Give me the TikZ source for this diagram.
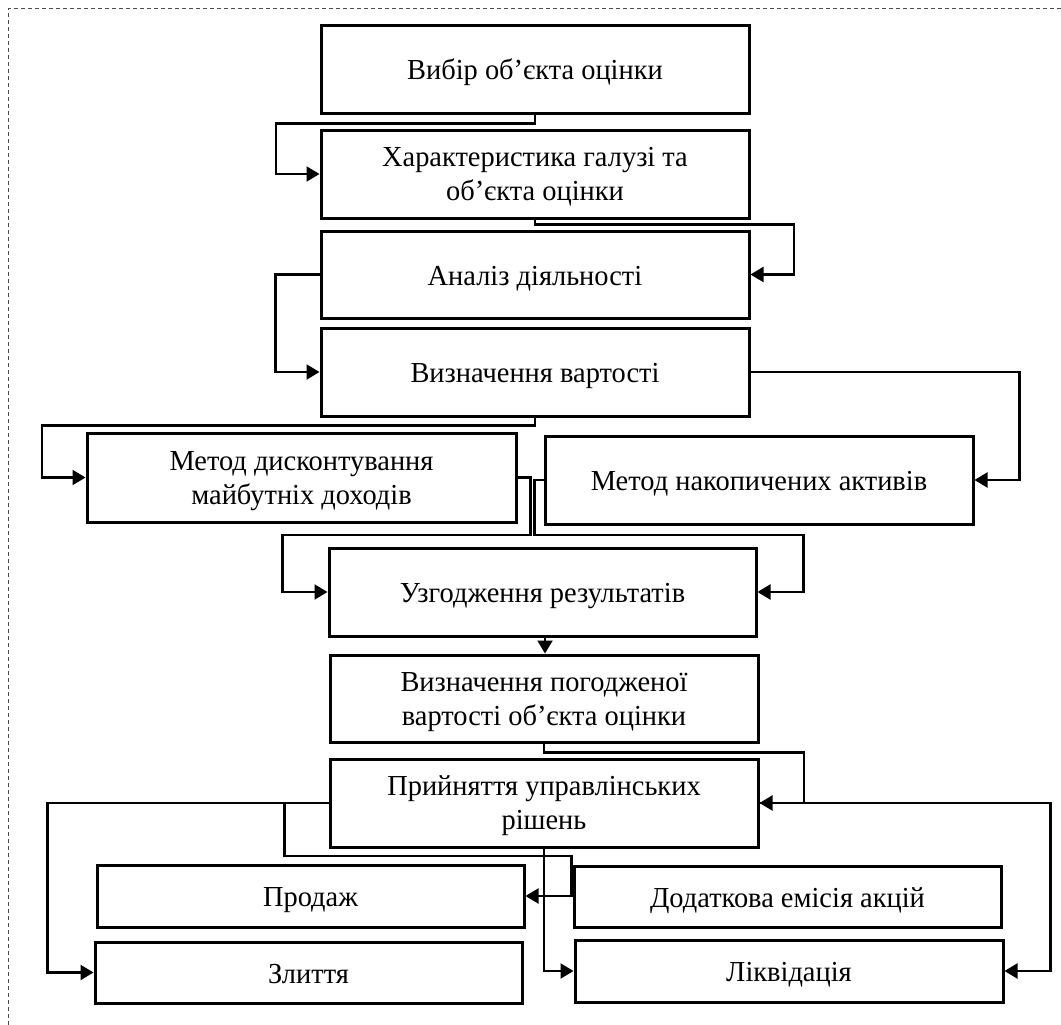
\documentclass[tikz,border=0pt]{standalone}
\usepackage{fontspec}
\setmainfont{Liberation Serif}[FakeStretch=0.98]
\usetikzlibrary{arrows.meta,calc}
\newcommand\tstop{\rule{0pt}{28pt}}
\newcommand\tstopb{\rule{0pt}{26pt}}
\newcommand\tsbot{\rule[-7pt]{0pt}{7pt}}
\begin{document}
\begin{tikzpicture}[x=1pt,y=-1pt,
  box/.style={draw=black,line width=3pt,fill=white,minimum width=428pt,minimum height=88pt,
    align=center,inner sep=2pt,font=\fontsize{29}{34}\selectfont},
  lowbox/.style={box,minimum height=62pt},
  conn/.style={draw=black,line width=2.2pt},
  arr/.style={conn,-{Triangle[length=13pt,width=15pt]}},
  frame/.style={draw=black!70,line width=1pt,dash pattern=on 4pt off 3pt}]
\useasboundingbox (0,0) rectangle (1061,1025);
\coordinate (fa) at (1061,9);
\coordinate (fb) at (8,9);
\coordinate (fc) at (8,1025);
\draw[frame] (fa) -- (fb) -- (fc);

\node[box,minimum height=87pt] (b1) at (535,69.5) {\tstop Вибір об’єкта оцінки\tsbot};
\node[box] (b2) at (535,174) {\tstopb Характеристика галузі та\\об’єкта оцінки\tsbot};
\node[box,minimum height=87pt] (b3) at (535,274.5) {\tstop Аналіз діяльності\tsbot};
\node[box] (b4) at (535,372) {\tstop Визначення вартості\tsbot};
\node[box,minimum width=429pt,minimum height=89pt] (b5) at (301.5,477.5) {\tstopb Метод дисконтування\\майбутніх доходів\tsbot};
\node[box] (b6) at (759,480) {\tstop Метод накопичених активів\tsbot};
\node[box,minimum width=427pt] (b7) at (542.5,592) {\tstop Узгодження результатів\tsbot};
\node[box,minimum height=87pt] (b8) at (544,698.5) {\tstopb Визначення погодженої\\вартості об’єкта оцінки\tsbot};
\node[box] (b9) at (544,803) {\tstopb Прийняття управлінських\\рішень\tsbot};
\node[lowbox,minimum width=427pt] (b10) at (310.5,896) {\tstop Продаж\tsbot};
\node[lowbox,minimum width=427pt,minimum height=61pt] (b11) at (787.5,896.5) {\tstop Додаткова емісія акцій\tsbot};
\node[lowbox,minimum width=427pt,minimum height=61pt] (b12) at (308.5,972.5) {\tstop Злиття\tsbot};
\node[lowbox] (b13) at (789,971) {\tstop Ліквідація\tsbot};

\draw[arr] (b1.south) -- ++(0,9) -- ++(-259,0) |- (b2.west);
\draw[arr] (b2.south) -- ++(0,5) -- ++(259,0) |- (b3.east);
\draw[arr] (b3.west) -- ++(-44,0) |- (b4.west);
\draw[arr] (b4.east) -- ++(269,0) |- (b6.east);
\draw[arr] (b4.south) -- ++(0,8) -- ++(-493,0) |- (b5.west);
\draw[arr] (b5.east) -- ++(13,0) |- ($(b7.west)+(-45,-57)$) |- (b7.west);
\draw[arr] (b6.west) -- ++(-9,0) |- ($(b7.east)+(46,-57)$) |- (b7.east);
\draw[arr] ($(b7.south)+(2.5,0)$) -- ($(b8.north)+(1,0)$);
\draw[arr] (b8.south) -- ++(0,9) -- ++(260,0) |- (b9.east);
\draw[arr] (b9.west) -- ++(-281,0) |- (b12.west);
\draw[arr] (b9.west) -- ++(-44,0) |- ($(b10.east)+(46,-40)$) |- (b10.east);
\draw[arr] (b9.south) |- (b13.west);
\draw[arr] (b9.east) -- ++(291,0) |- (b13.east);
\end{tikzpicture}
\end{document}
